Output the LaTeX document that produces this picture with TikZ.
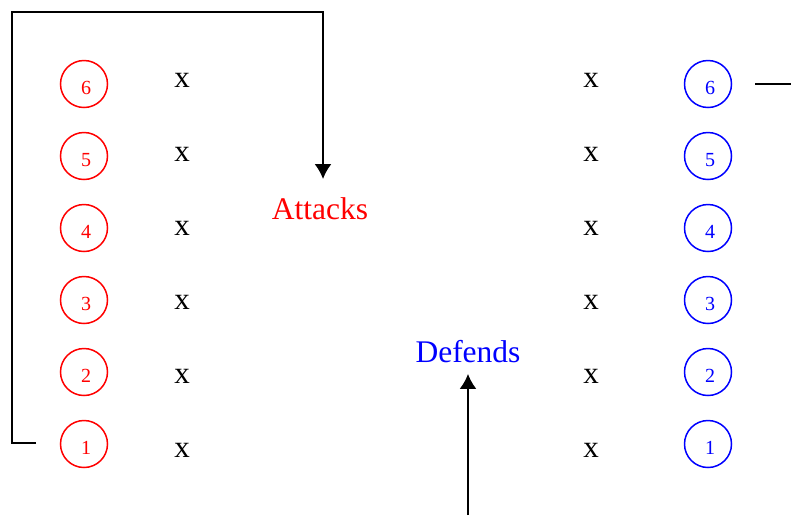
\documentclass[tikz,border=0pt]{standalone}
\usepackage{fontspec}
\setmainfont{Liberation Serif}
\usetikzlibrary{arrows.meta}
\begin{document}
\begin{tikzpicture}[x=1pt,y=-1pt,
  ball/.style={circle,line width=1.5pt,minimum size=47pt,inner sep=0pt,
    font=\fontsize{20}{20}\selectfont,text height=21pt,text depth=0pt},
  redball/.style={ball,draw=red,text=red},
  blueball/.style={ball,draw=blue,text=blue},
  xmark/.style={font=\fontsize{31}{31}\selectfont,inner sep=0pt},
  lbl/.style={font=\fontsize{31.5}{31.5}\selectfont,inner sep=0pt},
  conn/.style={line width=1.8pt,-{Latex[length=15pt,width=17pt]}},
  plain/.style={line width=1.8pt}]
\useasboundingbox (0,0) rectangle (791,515);
\foreach \n/\y/\xy in {6/84/80,5/156/154,4/228/228,3/300/302,2/372/376,1/444/450}{
  \node[redball] (r\n) at (84,\y) {\hspace{4pt}\n};
  \node[xmark] (xl\n) at (182,\xy) {x};
  \node[xmark] (xr\n) at (591,\xy) {x};
  \node[blueball] (b\n) at (708,\y) {\hspace{4pt}\n};
}
\node[lbl,text=red] (atk) at (320,208.5) {Attacks};
\node[lbl,text=blue] (def) at (468,352) {Defends};
\coordinate (s1) at (36,443);
\coordinate (atip) at (323,179);
\draw[conn] (s1) -- (12,443) -- (12,12) -- (323,12) -- (atip);
\coordinate (dbot) at (468,515);
\draw[conn,shorten >=10.5pt] (dbot) -- (def.south);
\coordinate (rend) at (791,84);
\draw[plain] ([xshift=23pt]b6.east) -- (rend);
\end{tikzpicture}
\end{document}
